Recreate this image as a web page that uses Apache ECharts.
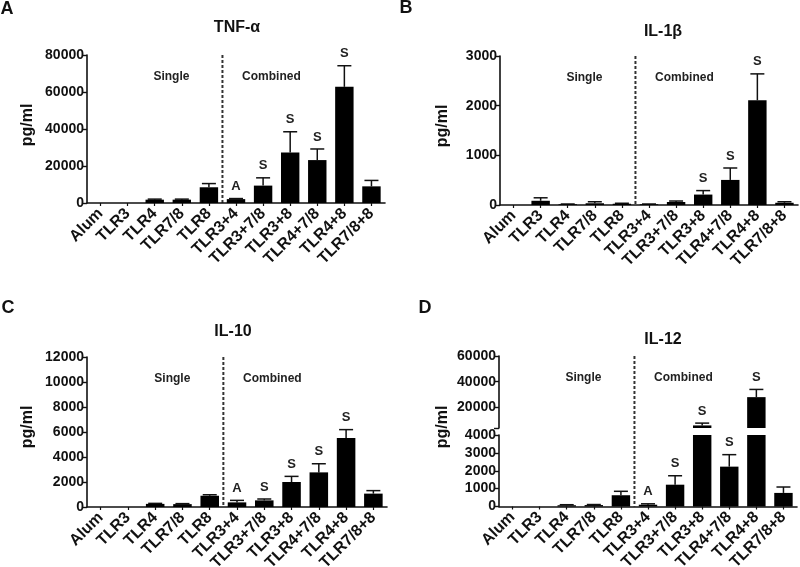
<!DOCTYPE html>
<html>
<head>
<meta charset="utf-8">
<script src="https://cdn.jsdelivr.net/npm/echarts@6/dist/echarts.min.js"></script>
<style>
html,body{margin:0;padding:0;background:#fff;}
#chart{width:800px;height:567px;}
</style>
</head>
<body>
<div id="chart"></div>
<script>
// ---------- data ----------
const categories = ['Alum','TLR3','TLR4','TLR7/8','TLR8','TLR3+4','TLR3+7/8','TLR3+8','TLR4+7/8','TLR4+8','TLR7/8+8'];

const tnfMean = [0, 0, 1800, 1800, 8500, 2100, 9400, 27300, 23200, 62800, 9000];
const tnfErr  = [0, 0, 300, 300, 2000, 300, 4200, 11200, 6000, 11400, 3200];
const tnfMarks = ['', '', '', '', '', 'A', 'S', 'S', 'S', 'S', ''];

const il1bMean = [0, 85, 15, 35, 25, 15, 60, 210, 505, 2110, 45];
const il1bErr  = [0, 60, 5, 30, 10, 5, 20, 80, 240, 530, 20];
const il1bMarks = ['', '', '', '', '', '', '', 'S', 'S', 'S', ''];

const il10Mean = [0, 0, 250, 230, 900, 370, 530, 2000, 2770, 5520, 1070];
const il10Err  = [0, 0, 40, 40, 80, 160, 110, 450, 690, 670, 240];
const il10Marks = ['', '', '', '', '', 'A', 'S', 'S', 'S', 'S', ''];

const il12Mean = [0, 0, 70, 80, 630, 100, 1220, 6000, 2230, 28000, 760];
const il12Err  = [0, 0, 30, 30, 220, 50, 500, 1800, 670, 6000, 330];
const il12Marks = ['', '', '', '', '', 'A', 'S', 'S', 'S', 'S', ''];

const panelTitles = ['TNF-α', 'IL-1β', 'IL-10', 'IL-12'];
const panelLetters = ['A', 'B', 'C', 'D'];
const yUnit = 'pg/ml';
const groupNames = ['Single', 'Combined'];

// y-axis ranges / ticks
const yA = {min: 0, max: 80000, interval: 20000};
const yB = {min: 0, max: 3000, interval: 1000};
const yC = {min: 0, max: 12000, interval: 2000};
const yDlow = {min: 0, max: 4000, interval: 1000};
const yDhigh = {min: 4000, max: 60000};
const yDhighLabels = [20000, 40000, 60000];
const yDhighTicks = [4000, 20000, 40000, 60000];

// ---------- chart ----------
const FONT = '"Liberation Sans", Arial, sans-serif';
const INK = '#111';
const chart = echarts.init(document.getElementById('chart'), null, {renderer: 'canvas'});

const grids = [
  {left: 87, top: 55, width: 298, height: 148},
  {left: 500, top: 56, width: 298, height: 149},
  {left: 87, top: 357, width: 300, height: 150},
  {left: 499, top: 356, width: 298, height: 72},
  {left: 499, top: 435, width: 298, height: 71.5}
].map(g => Object.assign(g, {containLabel: false, outerBoundsMode: 'none'}));

function xAxis(gi, show) {
  return {
    type: 'category', gridIndex: gi, data: categories, show: show,
    boundaryGap: true,
    axisLine: {show: true, lineStyle: {color: INK, width: 1.6}},
    axisTick: {show: true, alignWithLabel: true, length: 3, lineStyle: {color: INK, width: 1.2}},
    axisLabel: {rotate: 45, interval: 0, fontSize: 16, fontWeight: 'bold', color: INK, margin: 8, fontFamily: FONT}
  };
}
function yAxis(gi, r, extra) {
  const a = {
    type: 'value', gridIndex: gi, min: r.min, max: r.max,
    axisLine: {show: true, lineStyle: {color: INK, width: 1.6}},
    axisTick: {show: true, length: 5, lineStyle: {color: INK, width: 1.4}},
    splitLine: {show: false},
    axisLabel: {fontSize: 14, fontWeight: 'bold', color: INK, margin: 3, fontFamily: FONT,
      formatter: v => String(v)}
  };
  if (r.interval !== undefined) a.interval = r.interval;
  if (extra) {
    Object.assign(a.axisLabel, extra.axisLabel || {});
    Object.assign(a.axisTick, extra.axisTick || {});
  }
  return a;
}

function errRender(marks, lo, hi) {
  return function (params, api) {
    const i = api.value(0), m = api.value(1), e = api.value(2);
    const top = m + e;
    if (top <= lo || top > hi) return null;
    const p0 = api.coord([i, m]);
    const p1 = api.coord([i, top]);
    const children = [];
    if (e > 0) {
      children.push({type: 'line', shape: {x1: p0[0], y1: p0[1], x2: p1[0], y2: p1[1]},
        style: {stroke: INK, lineWidth: 1.5}});
      children.push({type: 'line', shape: {x1: p1[0] - 7, y1: p1[1], x2: p1[0] + 7, y2: p1[1]},
        style: {stroke: INK, lineWidth: 1.5}});
    }
    const mk = marks[i];
    if (mk) {
      children.push({type: 'text', x: p1[0], y: p1[1] - 12,
        style: {text: mk, fill: '#222', font: 'bold 13px ' + FONT, align: 'center', verticalAlign: 'middle'}});
    }
    return {type: 'group', children: children};
  };
}

function barSeries(idx, mean) {
  return {type: 'bar', xAxisIndex: idx, yAxisIndex: idx, data: mean, barWidth: '68%',
    itemStyle: {color: '#000'}, clip: true, silent: true, animation: false};
}
function errSeries(idx, mean, err, marks, lo, hi) {
  return {type: 'custom', xAxisIndex: idx, yAxisIndex: idx, clip: false, silent: true, animation: false,
    renderItem: errRender(marks, lo, hi), encode: {x: 0, y: 1},
    data: mean.map((m, i) => [i, m, err[i]])};
}

chart.setOption({
  animation: false,
  textStyle: {fontFamily: FONT},
  grid: grids,
  xAxis: [xAxis(0, true), xAxis(1, true), xAxis(2, true), xAxis(3, false), xAxis(4, true)],
  yAxis: [
    yAxis(0, yA), yAxis(1, yB), yAxis(2, yC),
    yAxis(3, yDhigh, {axisLabel: {customValues: yDhighLabels}, axisTick: {customValues: yDhighTicks}}),
    yAxis(4, yDlow)
  ],
  series: [
    barSeries(0, tnfMean), errSeries(0, tnfMean, tnfErr, tnfMarks, -Infinity, Infinity),
    barSeries(1, il1bMean), errSeries(1, il1bMean, il1bErr, il1bMarks, -Infinity, Infinity),
    barSeries(2, il10Mean), errSeries(2, il10Mean, il10Err, il10Marks, -Infinity, Infinity),
    barSeries(3, il12Mean), errSeries(3, il12Mean, il12Err, il12Marks, yDlow.max, Infinity),
    barSeries(4, il12Mean), errSeries(4, il12Mean, il12Err, il12Marks, -Infinity, yDlow.max)
  ]
});

// ---------- annotations (text, dashed separators) ----------
const panels = [
  {xi: 0, top: grids[0].top, bottom: grids[0].top + grids[0].height, letter: [7, 9], title: [237, 28], unit: [28, 125]},
  {xi: 1, top: grids[1].top, bottom: grids[1].top + grids[1].height, letter: [406, 8], title: [663, 32], unit: [443, 126]},
  {xi: 2, top: grids[2].top, bottom: grids[2].top + grids[2].height, letter: [8, 308], title: [233, 332], unit: [28, 427]},
  {xi: 4, top: grids[3].top, bottom: grids[4].top + grids[4].height, letter: [425, 308], title: [663, 340], unit: [443, 427]}
];
const graphics = [];
panels.forEach((p, k) => {
  const xa = chart.convertToPixel({xAxisIndex: p.xi}, categories[4]);
  const xb = chart.convertToPixel({xAxisIndex: p.xi}, categories[5]);
  const dx = (xa + xb) / 2;
  graphics.push({type: 'line', silent: true,
    shape: {x1: dx, y1: p.top, x2: dx, y2: p.bottom},
    style: {stroke: '#333', lineWidth: 2, lineDash: [3, 2]}});
  graphics.push({type: 'text', x: dx - 51, y: p.top + 22,
    style: {text: groupNames[0], fill: '#222', font: 'bold 12px ' + FONT, align: 'center', verticalAlign: 'middle'}});
  graphics.push({type: 'text', x: dx + 49, y: p.top + 22,
    style: {text: groupNames[1], fill: '#222', font: 'bold 12px ' + FONT, align: 'center', verticalAlign: 'middle'}});
  graphics.push({type: 'text', x: p.letter[0], y: p.letter[1],
    style: {text: panelLetters[k], fill: INK, font: 'bold 18px ' + FONT, align: 'center', verticalAlign: 'middle'}});
  graphics.push({type: 'text', x: p.title[0], y: p.title[1],
    style: {text: panelTitles[k], fill: INK, font: 'bold 16px ' + FONT, align: 'center', verticalAlign: 'middle'}});
  graphics.push({type: 'text', x: p.unit[0], y: p.unit[1], rotation: Math.PI / 2,
    style: {text: yUnit, fill: INK, font: 'bold 16px ' + FONT, align: 'center', verticalAlign: 'middle'}});
});
chart.setOption({graphic: graphics});
</script>
</body>
</html>
